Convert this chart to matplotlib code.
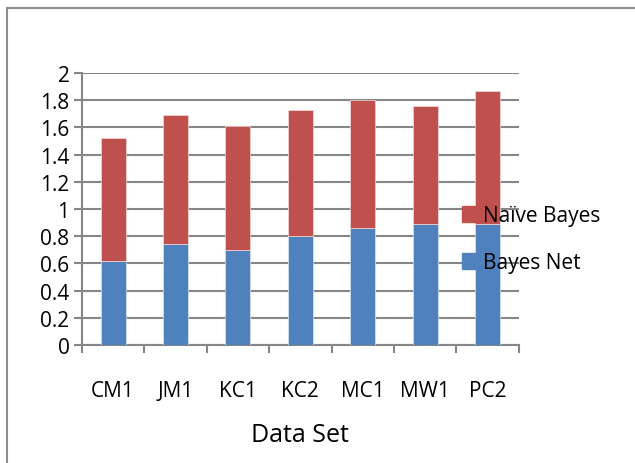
import matplotlib
matplotlib.use("Agg")
import matplotlib.pyplot as plt
from matplotlib.patches import Rectangle, Patch

plt.rcParams['font.family'] = ['Open Sans', 'DejaVu Sans']

datasets = ["CM1", "JM1", "KC1", "KC2", "MC1", "MW1", "PC2"]
bayes_net = [0.62, 0.74, 0.70, 0.80, 0.86, 0.89, 0.89]
naive_bayes = [0.90, 0.95, 0.91, 0.93, 0.94, 0.87, 0.98]
yticks = [0, 0.2, 0.4, 0.6, 0.8, 1, 1.2, 1.4, 1.6, 1.8, 2]
ytick_labels = ["0", "0.2", "0.4", "0.6", "0.8", "1", "1.2", "1.4", "1.6", "1.8", "2"]

blue = "#4F81BD"
red = "#C0504D"
grid = "#868686"

fig = plt.figure(figsize=(6.35, 4.64), dpi=100)
ax = fig.add_axes([0.129, 0.2543, 0.688, 0.5862])

x = list(range(len(datasets)))
ax.bar(x, bayes_net, width=0.4, color=blue, edgecolor="#dce6f2", linewidth=0.5, zorder=3)
ax.bar(x, naive_bayes, width=0.4, bottom=bayes_net, color=red, edgecolor="#f2dcdb",
       linewidth=0.5, zorder=3)

ax.set_xlim(-0.5, len(datasets) - 0.5)
ax.set_ylim(0, 2)
ax.set_yticks(yticks)
ax.set_yticklabels(ytick_labels, fontsize=15)
ax.yaxis.grid(True, color=grid, linewidth=1.5, zorder=1)
ax.tick_params(axis="y", length=6, width=1.5, color=grid, pad=3)

# category labels centred, tick marks on the boundaries
ax.set_xticks(x)
ax.set_xticklabels(datasets, fontsize=15)
ax.tick_params(axis="x", length=0, pad=25)
ax.set_xticks([i - 0.5 for i in range(len(datasets) + 1)], minor=True)
ax.tick_params(axis="x", which="minor", length=6, width=1.5, color=grid)
ax.set_xlabel("Data Set", fontsize=18, labelpad=15)

for side in ["top", "right"]:
    ax.spines[side].set_visible(False)
for side in ["left", "bottom"]:
    ax.spines[side].set_color(grid)
    ax.spines[side].set_linewidth(1.5)

handles = [Patch(color=red, label="Naïve Bayes"), Patch(color=blue, label="Bayes Net")]
leg = fig.legend(handles=handles, loc="center left", bbox_to_anchor=(0.7276, 0.482),
                 frameon=False, fontsize=15, handlelength=0.8, handleheight=0.8,
                 handletextpad=0.2, labelspacing=1.25, borderaxespad=0, borderpad=0)
leg.set_zorder(5)

fig.add_artist(Rectangle((7 / 635, -0.2), 1.2, 1.2 - 9 / 464, transform=fig.transFigure,
                         fill=False, edgecolor="#8c8c8c", linewidth=1.5))

fig.savefig("out.png", dpi=100)
